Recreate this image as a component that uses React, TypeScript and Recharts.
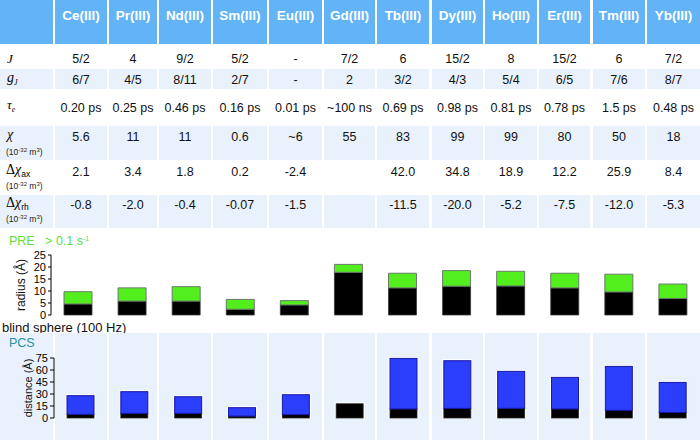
import React from 'react';
import { BarChart, Bar, XAxis, YAxis } from 'recharts';

// ---------- data ----------
const ions = ['Ce(III)', 'Pr(III)', 'Nd(III)', 'Sm(III)', 'Eu(III)', 'Gd(III)', 'Tb(III)', 'Dy(III)', 'Ho(III)', 'Er(III)', 'Tm(III)', 'Yb(III)'];
const jValues = ['5/2', '4', '9/2', '5/2', '-', '7/2', '6', '15/2', '8', '15/2', '6', '7/2'];
const gjValues = ['6/7', '4/5', '8/11', '2/7', '-', '2', '3/2', '4/3', '5/4', '6/5', '7/6', '8/7'];
const tauValues = ['0.20 ps', '0.25 ps', '0.46 ps', '0.16 ps', '0.01 ps', '~100 ns', '0.69 ps', '0.98 ps', '0.81 ps', '0.78 ps', '1.5 ps', '0.48 ps'];
const chiValues = ['5.6', '11', '11', '0.6', '~6', '55', '83', '99', '99', '80', '50', '18'];
const dChiAxValues = ['2.1', '3.4', '1.8', '0.2', '-2.4', '', '42.0', '34.8', '18.9', '12.2', '25.9', '8.4'];
const dChiRhValues = ['-0.8', '-2.0', '-0.4', '-0.07', '-1.5', '', '-11.5', '-20.0', '-5.2', '-7.5', '-12.0', '-5.3'];

const blindSphere = [4.6, 5.8, 5.8, 2.4, 4.2, 17.8, 11.3, 12.0, 12.1, 11.3, 9.6, 6.9];
const preRadius = [9.7, 11.3, 11.8, 6.5, 6.0, 21.1, 17.4, 18.5, 18.2, 17.4, 17.0, 12.9];
const pcsDistance: (number | null)[] = [27.9, 32.9, 26.6, 12.9, 29.1, null, 74.5, 71.6, 58.3, 50.8, 64.5, 44.5];
const preTicks = [0, 5, 10, 15, 20, 25];
const pcsTicks = [0, 15, 30, 45, 60, 75];

const preData = ions.map((ion, i) => ({ ion, blind: blindSphere[i], pre: preRadius[i] - blindSphere[i] }));
const pcsData = ions.map((ion, i) => {
  const d = pcsDistance[i];
  return {
    ion,
    blind: blindSphere[i],
    pcs: d == null ? null : d - blindSphere[i],
    total: d == null ? blindSphere[i] : d,
  };
});

// ---------- layout constants ----------
const colLeft = [0, 55, 109, 159, 213, 269, 324, 377, 432, 485, 539, 593, 647];
const colRight = [53, 107, 157, 211, 267, 322, 375, 429, 483, 537, 590, 645, 700];
const HEADER_BLUE = '#62b4f6';
const LIGHT = '#e9f2fc';
const FONT = "'Liberation Sans', Arial, sans-serif";
const SERIF = "'Liberation Serif', 'Times New Roman', serif";

const rows = [
  { top: 46, h: 22, center: 59, light: false, values: jValues },
  { top: 69, h: 20, center: 80, light: true, values: gjValues },
  { top: 90, h: 35, center: 108, light: false, values: tauValues },
  { top: 126, h: 34, center: 137, light: true, values: chiValues },
  { top: 160, h: 34, center: 172, light: false, values: dChiAxValues },
  { top: 195, h: 33, center: 205, light: true, values: dChiRhValues },
];

const supStyle: React.CSSProperties = { fontSize: 6, position: 'relative', top: -3, verticalAlign: 'baseline' };
const subStyle: React.CSSProperties = { fontSize: 9, position: 'relative', top: 3, verticalAlign: 'baseline', fontFamily: FONT };

const Unit = ({ top }: { top: number }) => (
  <div style={{ position: 'absolute', left: 6, top, fontSize: 8.5, lineHeight: '10px', color: '#222', fontFamily: FONT, whiteSpace: 'nowrap' }}>
    (10<span style={supStyle}>-32</span> m<span style={supStyle}>3</span>)
  </div>
);

const BlindWithHalo = (props: any) => {
  const { x, y, width, height, payload } = props;
  if (!height || height <= 0) return null;
  const ppu = height / payload.blind;
  const topY = y + height - payload.total * ppu;
  return (
    <g>
      <rect x={x - 1.5} y={topY - 1.5} width={width + 3} height={y + height - topY + 2} fill="#ffffff" />
      <rect x={x} y={y} width={width} height={height} fill="#000000" stroke="#2a2a2a" strokeWidth={0.8} />
    </g>
  );
};

const BlueBar = (props: any) => {
  const { x, y, width, height } = props;
  if (!height || height <= 0) return null;
  return <rect x={x} y={y} width={width} height={height} fill="#2b3efc" stroke="#1616a8" strokeWidth={1} />;
};

export default function App() {
  return (
    <div style={{ position: 'absolute', left: 0, top: 0, width: 700, height: 440, background: '#fff', overflow: 'hidden', fontFamily: FONT }}>
      {/* header */}
      {colLeft.map((l, c) => (
        <div key={'h' + c} style={{ position: 'absolute', left: l, top: 0, width: colRight[c] - l, height: 44, background: HEADER_BLUE }} />
      ))}
      {ions.map((ion, i) => (
        <div key={'ht' + i} style={{ position: 'absolute', left: colLeft[i + 1], width: colRight[i + 1] - colLeft[i + 1], top: 7, height: 18, lineHeight: '18px', textAlign: 'center', color: '#fff', fontWeight: 'bold', fontSize: 13.5 }}>
          {ion}
        </div>
      ))}
      {/* body rows */}
      {rows.map((r, ri) => (
        <React.Fragment key={'r' + ri}>
          {r.light && colLeft.map((l, c) => (
            <div key={'bg' + c} style={{ position: 'absolute', left: l, top: r.top, width: colRight[c] - l, height: r.h, background: LIGHT }} />
          ))}
          {r.values.map((v, i) => (
            <div key={'v' + i} style={{ position: 'absolute', left: colLeft[i + 1], width: colRight[i + 1] - colLeft[i + 1], top: r.center - 8, height: 16, lineHeight: '16px', textAlign: 'center', color: '#111', fontSize: 12.5, whiteSpace: 'nowrap' }}>
              {v}
            </div>
          ))}
        </React.Fragment>
      ))}
      {/* row labels */}
      <div style={{ position: 'absolute', left: 7, top: 51, fontFamily: SERIF, fontStyle: 'italic', fontSize: 13, lineHeight: '16px' }}>J</div>
      <div style={{ position: 'absolute', left: 7, top: 70, fontFamily: SERIF, fontStyle: 'italic', fontSize: 14, lineHeight: '16px', whiteSpace: 'nowrap' }}>
        g<span style={{ ...subStyle, fontFamily: SERIF, fontSize: 8 }}>J</span>
      </div>
      <div style={{ position: 'absolute', left: 7, top: 97, fontFamily: SERIF, fontStyle: 'italic', fontSize: 13, lineHeight: '16px', whiteSpace: 'nowrap' }}>
        τ<span style={{ ...subStyle, fontFamily: SERIF, fontSize: 8 }}>e</span>
      </div>
      <div style={{ position: 'absolute', left: 7, top: 127, fontFamily: SERIF, fontStyle: 'italic', fontSize: 14, lineHeight: '16px' }}>χ</div>
      <Unit top={147} />
      <div style={{ position: 'absolute', left: 6, top: 162, fontFamily: SERIF, fontSize: 14, lineHeight: '16px', whiteSpace: 'nowrap' }}>
        Δ<i>χ</i><span style={{ ...subStyle, fontSize: 8.5 }}>ax</span>
      </div>
      <Unit top={181} />
      <div style={{ position: 'absolute', left: 6, top: 195, fontFamily: SERIF, fontSize: 14, lineHeight: '16px', whiteSpace: 'nowrap' }}>
        Δ<i>χ</i><span style={{ ...subStyle, fontSize: 8.5 }}>rh</span>
      </div>
      <Unit top={214} />

      {/* PRE label */}
      <div style={{ position: 'absolute', left: 9, top: 233, fontSize: 12.5, lineHeight: '16px', color: '#5ee03c', whiteSpace: 'pre' }}>
        {'PRE   > 0.1 s'}<span style={{ ...supStyle, fontSize: 7, top: -4 }}>-1</span>
      </div>

      <div style={{ position: 'absolute', left: 0, top: 245 }}>
        <BarChart width={700} height={80} data={preData} margin={{ top: 10, right: 0, bottom: 10, left: 0 }} barSize={28}>
          <XAxis dataKey="ion" hide />
          <YAxis
            type="number"
            domain={[0, 25]}
            ticks={preTicks}
            interval={0}
            width={51}
            tickSize={3}
            axisLine={{ stroke: '#000' }}
            tickLine={{ stroke: '#000' }}
            tick={{ fontSize: 11, fill: '#000', fontFamily: FONT }}
            label={{ value: 'radius (Å)', angle: -90, position: 'insideLeft', offset: 21, style: { textAnchor: 'middle', fontSize: 12, fill: '#111', fontFamily: FONT } }}
          />
          <Bar dataKey="blind" stackId="a" fill="#000" stroke="#3a3a3a" strokeWidth={0.8} isAnimationActive={false} />
          <Bar dataKey="pre" stackId="a" fill="#52ee1e" stroke="#6b7a6b" strokeWidth={1} isAnimationActive={false} />
        </BarChart>
      </div>

      <div style={{ position: 'absolute', left: 2, top: 322, fontSize: 13, lineHeight: '12px', color: '#111', whiteSpace: 'nowrap' }}>
        blind sphere (100 Hz)
      </div>

      {/* PCS background */}
      {colLeft.map((l, c) => (
        <div key={'p' + c} style={{ position: 'absolute', left: l, top: 333, width: colRight[c] - l, height: 107, background: LIGHT }} />
      ))}
      <div style={{ position: 'absolute', left: 9, top: 335, fontSize: 12.5, lineHeight: '16px', color: '#2a8f9f' }}>PCS</div>

      <div style={{ position: 'absolute', left: 0, top: 348 }}>
        <BarChart width={700} height={80} data={pcsData} margin={{ top: 10, right: 0, bottom: 10, left: 0 }} barSize={27}>
          <XAxis dataKey="ion" hide />
          <YAxis
            type="number"
            domain={[0, 75]}
            ticks={pcsTicks}
            interval={0}
            width={54}
            tickSize={4}
            axisLine={{ stroke: '#000' }}
            tickLine={{ stroke: '#000' }}
            tick={{ fontSize: 11, fill: '#000', fontFamily: FONT }}
            label={{ value: 'distance (Å)', angle: -90, position: 'insideLeft', offset: 28, style: { textAnchor: 'middle', fontSize: 11, fill: '#111', fontFamily: FONT } }}
          />
          <Bar dataKey="blind" stackId="b" fill="#000" isAnimationActive={false} shape={BlindWithHalo} />
          <Bar dataKey="pcs" stackId="b" fill="#2b3efc" isAnimationActive={false} shape={BlueBar} />
        </BarChart>
      </div>
    </div>
  );
}
